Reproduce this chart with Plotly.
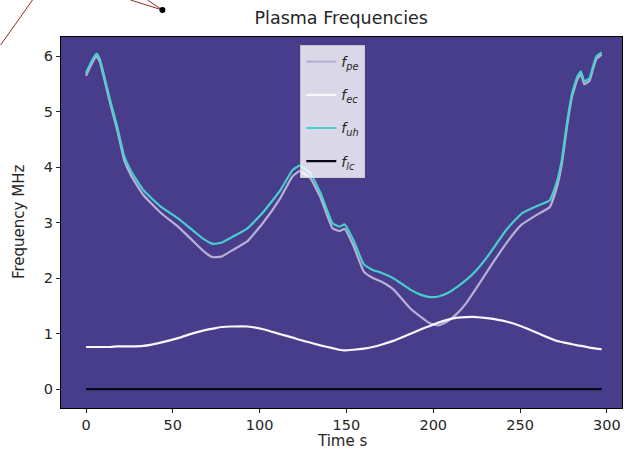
import plotly.graph_objects as go

# ---- data ----
time_s = [0, 3, 6, 8, 11, 14, 18, 22, 26, 33, 43, 53, 62, 68, 73, 78, 84, 93, 102,
          112, 119, 123, 129, 135, 142, 146, 149, 154, 160, 165, 170, 177, 187, 193,
          198, 203, 208, 214, 219, 225, 231, 242, 251, 261, 267, 271, 274, 277, 280,
          283, 285, 287, 290, 292, 294, 297]

f_uh = [5.70, 5.90, 6.05, 5.95, 5.58, 5.20, 4.73, 4.20, 3.93, 3.59, 3.29, 3.08, 2.85,
        2.70, 2.62, 2.64, 2.74, 2.90, 3.19, 3.59, 3.95, 4.03, 3.90, 3.54, 2.99, 2.93,
        2.97, 2.69, 2.25, 2.15, 2.10, 2.00, 1.79, 1.70, 1.66, 1.67, 1.73, 1.85, 1.97,
        2.15, 2.38, 2.87, 3.17, 3.32, 3.40, 3.72, 4.13, 4.80, 5.34, 5.64, 5.73, 5.55,
        5.61, 5.82, 6.00, 6.07]

f_ec = [0.76, 0.76, 0.76, 0.76, 0.76, 0.76, 0.77, 0.77, 0.77, 0.78, 0.84, 0.92, 1.01,
        1.06, 1.09, 1.12, 1.13, 1.13, 1.08, 0.99, 0.93, 0.89, 0.84, 0.79, 0.74, 0.71,
        0.70, 0.71, 0.73, 0.76, 0.80, 0.87, 1.00, 1.08, 1.14, 1.20, 1.25, 1.29, 1.30,
        1.30, 1.28, 1.22, 1.13, 1.00, 0.92, 0.87, 0.85, 0.83, 0.81, 0.79, 0.78, 0.77,
        0.75, 0.74, 0.73, 0.72]

f_pe = [5.65, 5.85, 6.00, 5.90, 5.53, 5.14, 4.67, 4.13, 3.85, 3.50, 3.18, 2.93, 2.66,
        2.48, 2.38, 2.39, 2.50, 2.67, 3.00, 3.45, 3.84, 3.93, 3.81, 3.46, 2.90, 2.85,
        2.89, 2.59, 2.12, 2.01, 1.94, 1.80, 1.45, 1.30, 1.19, 1.15, 1.22, 1.37, 1.55,
        1.83, 2.12, 2.63, 2.97, 3.17, 3.28, 3.62, 4.05, 4.73, 5.28, 5.59, 5.68, 5.50,
        5.56, 5.77, 5.96, 6.03]

f_lc = [0.0004, 0.0004, 0.0004, 0.0004, 0.0004, 0.0004, 0.0004, 0.0004, 0.0004, 0.0004,
        0.0005, 0.0005, 0.0006, 0.0006, 0.0006, 0.0006, 0.0006, 0.0006, 0.0006, 0.0005,
        0.0005, 0.0005, 0.0005, 0.0004, 0.0004, 0.0004, 0.0004, 0.0004, 0.0004, 0.0004,
        0.0004, 0.0005, 0.0005, 0.0006, 0.0006, 0.0007, 0.0007, 0.0007, 0.0007, 0.0007,
        0.0007, 0.0007, 0.0006, 0.0005, 0.0005, 0.0005, 0.0005, 0.0005, 0.0004, 0.0004,
        0.0004, 0.0004, 0.0004, 0.0004, 0.0004, 0.0004]

x_ticks = [0, 50, 100, 150, 200, 250, 300]
y_ticks = [0, 1, 2, 3, 4, 5, 6]

FONT = "DejaVu Sans"
TXT = "#262626"

series = [
    ("<i>f</i><sub><i>pe</i></sub>", f_pe, "rgb(184,176,212)"),
    ("<i>f</i><sub><i>ec</i></sub>", f_ec, "rgb(248,246,252)"),
    ("<i>f</i><sub><i>uh</i></sub>", f_uh, "rgb(72,206,206)"),
    ("<i>f</i><sub><i>lc</i></sub>", f_lc, "rgb(8,8,20)"),
]

fig = go.Figure()
for i, (name, vals, col) in enumerate(series):
    fig.add_trace(go.Scatter(
        x=time_s, y=vals, mode="lines", name=name, legendgroup=f"g{i}",
        line=dict(color=col, width=2.2, shape="spline", smoothing=0.4),
    ))

# plot-area geometry (px) used for decorations outside the axes
L, R, T, B = 60.5, 622.0, 37.0, 408.0
W, H = 625, 455


def px_to_paper(px, py):
    return (px - L) / (R - L), (B - py) / (B - T)


deco_lines = [((0, 45), (32, 0)), ((130, 0), (162, 10)), ((147, 0), (162, 10))]
shapes = []
for (a, b) in deco_lines:
    x0, y0 = px_to_paper(*a)
    x1, y1 = px_to_paper(*b)
    shapes.append(dict(type="line", xref="paper", yref="paper", x0=x0, y0=y0,
                       x1=x1, y1=y1, line=dict(color="rgb(150,40,40)", width=1)))
cx0, cy0 = px_to_paper(159, 7)
cx1, cy1 = px_to_paper(165, 13)
shapes.append(dict(type="circle", xref="paper", yref="paper", x0=cx0, y0=cy0,
                   x1=cx1, y1=cy1, fillcolor="black", line=dict(color="black", width=0)))

xt_x, xt_y = px_to_paper((L + R) / 2, 441)
yt_x, yt_y = px_to_paper(18, (T + B) / 2)
annotations = [
    dict(text="Time s", xref="paper", yref="paper", x=xt_x, y=xt_y,
         xanchor="center", yanchor="middle", showarrow=False,
         font=dict(size=15, color=TXT)),
    dict(text="Frequency MHz", xref="paper", yref="paper", x=yt_x, y=yt_y,
         xanchor="center", yanchor="middle", showarrow=False, textangle=-90,
         font=dict(size=15, color=TXT)),
]

fig.update_layout(
    width=W, height=H,
    margin=dict(l=L, r=W - R, t=T, b=H - B, autoexpand=False),
    paper_bgcolor="white",
    plot_bgcolor="rgb(72,61,139)",
    font=dict(family=FONT, size=14.5, color=TXT),
    title=dict(text="Plasma Frequencies", x=(L + R) / 2 / W, xanchor="center",
               y=1 - 18 / H, yanchor="middle", font=dict(size=17.5, color=TXT)),
    showlegend=True,
    legend=dict(
        x=(300 - L) / (R - L), y=(B - 45) / (B - T), xanchor="left", yanchor="top",
        bgcolor="rgba(255,255,255,0.8)", bordercolor="rgba(204,204,204,0.9)",
        borderwidth=1, font=dict(size=14, color=TXT), tracegroupgap=12,
        itemwidth=30,
    ),
    shapes=shapes,
    annotations=annotations,
)

fig.update_xaxes(
    range=[-14.4, 308.7], tickvals=x_ticks, ticks="outside", ticklen=4,
    tickcolor=TXT, showgrid=False, zeroline=False, showline=True, mirror=True,
    linecolor="black", linewidth=1, automargin=False,
)
fig.update_yaxes(
    range=[-0.34, 6.35], tickvals=y_ticks, ticks="outside", ticklen=4,
    tickcolor=TXT, showgrid=False, zeroline=False, showline=True, mirror=True,
    linecolor="black", linewidth=1, automargin=False,
)

fig.write_html("out.html", config={"displayModeBar": False},
               post_script="document.body.style.margin='0';")
